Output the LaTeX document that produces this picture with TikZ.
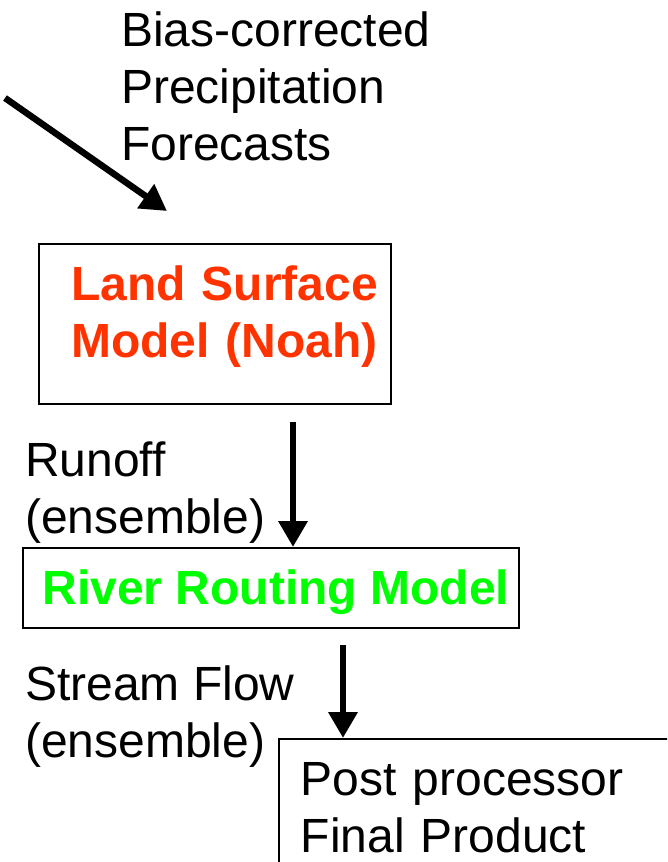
\documentclass[tikz,border=0pt]{standalone}
\usepackage{fontspec}
\setmainfont{Liberation Sans}
\usetikzlibrary{arrows.meta}
\usetikzlibrary{positioning}

\definecolor{lsmred}{HTML}{FF3300}
\definecolor{rrmgreen}{HTML}{00FF00}

\begin{document}
\begin{tikzpicture}[x=1pt,y=-1pt,
                    every node/.style={font=\fontsize{48}{57}\selectfont, inner sep=0pt},
                    modelbox/.style={draw, line width=1.5pt, anchor=north west},
                    flowarrow/.style={line width=6.5pt, -{Triangle[length=26pt,width=28pt]}}]
    \useasboundingbox (0,0) rectangle (667,862);
    \clip (0,0) rectangle (667,862);
    % inputs
    \node [anchor=north west, align=left] (fcst) at (121,12)
        {Bias-corrected\\Precipitation\\Forecasts};
    \coordinate (fcsttail) at (5,98);
    \coordinate (fcsttip) at (167,211);
    \draw [flowarrow] (fcsttail) -- (fcsttip);
    % models
    \node [modelbox, minimum width=352pt, minimum height=160pt, text width=326pt, text depth=81pt,
           align=right, text=lsmred, font=\fontsize{48}{57}\selectfont\bfseries] (lsm) at (38,243)
        {Land Surface\\Model (Noah)};
    \node [modelbox, minimum width=496pt, minimum height=80pt, text depth=2pt,
           text=rrmgreen, font=\fontsize{48}{57}\selectfont\bfseries] (rrm) at (22,547)
        {\hspace*{10pt}River Routing Model};
    \node [modelbox, minimum width=400pt, text width=356pt, text depth=110pt,
           align=left, inner xsep=22pt, inner ysep=24pt] (post) at (278,738)
        {Post processor\\Final Product};
    % fluxes
    \node [anchor=north west, align=left] (runoff) at (25,442) {Runoff\\(ensemble)};
    \node [anchor=north west, align=left] (flow) at (25,666) {Stream Flow\\(ensemble)};
    \draw [flowarrow, shorten <=17pt] (lsm.south -| 293,0) -- (rrm.north -| 293,0);
    \draw [flowarrow, shorten <=16pt] (rrm.south -| 343,0) -- (post.north -| 343,0);
\end{tikzpicture}
\end{document}
